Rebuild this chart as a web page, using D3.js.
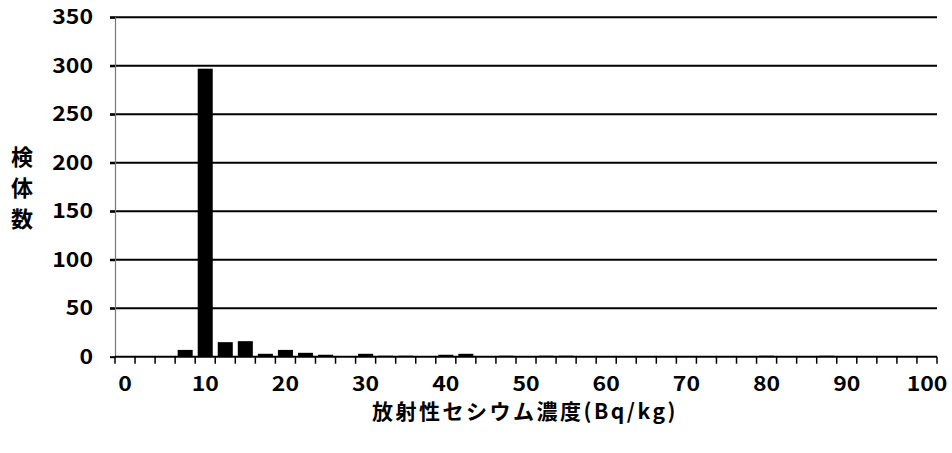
<!DOCTYPE html>
<html>
<head>
<meta charset="utf-8">
<script src="https://cdn.jsdelivr.net/npm/d3@7"></script>
<style>
  html, body { margin: 0; padding: 0; background: #fff; }
  svg { display: block; }
  text { font-family: "Noto Sans CJK JP", "Noto Sans", sans-serif; fill: #000; }
</style>
</head>
<body>
<svg id="chart" width="952" height="453"></svg>
<script>
// ---- data ----
const categories = [
  "0","2.5","5","7.5","10","12.5","15","17.5","20","22.5",
  "25","27.5","30","32.5","35","37.5","40","42.5","45","47.5",
  "50","52.5","55","57.5","60","62.5","65","67.5","70","72.5",
  "75","77.5","80","82.5","85","87.5","90","92.5","95","97.5","100"
];
const counts = [
  0, 0, 0, 7, 297, 15, 16, 3, 7, 4,
  2, 0, 3, 1, 1, 0, 2, 3, 0, 1,
  0, 1, 1, 0, 0, 0, 0, 0, 0, 0,
  0, 0, 1, 0, 0, 1, 0, 0, 0, 0, 0
];
const xTickLabels = ["0","10","20","30","40","50","60","70","80","90","100"];
const yTicks = [0, 50, 100, 150, 200, 250, 300, 350];
const xTitle = "放射性セシウム濃度(Bq/kg)";
const yTitle = ["検", "体", "数"];

// ---- layout ----
const plotL = 115, plotR = 937, plotT = 17.3, plotB = 356.7;
const labelScaleX = 1.15;
const svg = d3.select("#chart");

const x = d3.scaleBand()
  .domain(categories)
  .range([plotL, plotR])
  .paddingInner(0.25)
  .paddingOuter(0.125);

const y = d3.scaleLinear().domain([0, 350]).range([plotB, plotT]);

// gridlines
svg.append("g")
  .selectAll("line")
  .data(yTicks.filter(d => d > 0))
  .join("line")
  .attr("x1", plotL - 5)
  .attr("x2", plotR)
  .attr("y1", d => y(d))
  .attr("y2", d => y(d))
  .attr("stroke", "#000")
  .attr("stroke-width", 2);

// y axis
const yAxis = svg.append("g")
  .attr("transform", `translate(${plotL},0)`)
  .call(d3.axisLeft(y).tickValues(yTicks).tickSize(5).tickPadding(17));
yAxis.select(".domain").attr("stroke", "#777").attr("stroke-width", 1.2);
yAxis.selectAll(".tick line").attr("stroke", "#000").attr("stroke-width", 2);
yAxis.selectAll(".tick text")
  .attr("x", null)
  .attr("transform", `translate(-22,0) scale(${labelScaleX},1)`)
  .attr("font-size", 20)
  .attr("font-weight", "bold")
  .attr("font-family", '"Noto Sans CJK JP", sans-serif');

// bars
svg.append("g")
  .selectAll("rect")
  .data(categories.map((c, i) => ({ c, v: counts[i] })))
  .join("rect")
  .attr("x", d => x(d.c))
  .attr("width", x.bandwidth())
  .attr("y", d => y(d.v))
  .attr("height", d => plotB - y(d.v))
  .attr("fill", "#000");

// x axis baseline
svg.append("line")
  .attr("x1", plotL).attr("x2", plotR)
  .attr("y1", plotB).attr("y2", plotB)
  .attr("stroke", "#000").attr("stroke-width", 2);

// x tick marks at category boundaries
const boundaries = categories.map(c => x(c) - x.step() * x.paddingInner() / 2);
boundaries.push(plotR);
svg.append("g")
  .selectAll("line")
  .data(boundaries)
  .join("line")
  .attr("x1", d => d).attr("x2", d => d)
  .attr("y1", plotB).attr("y2", plotB + 7)
  .attr("stroke", "#000").attr("stroke-width", 1.5);

// x tick labels
svg.append("g")
  .selectAll("text")
  .data(xTickLabels)
  .join("text")
  .attr("transform", d => `translate(${x(d) + x.bandwidth() / 2},391) scale(${labelScaleX},1)`)
  .attr("text-anchor", "middle")
  .attr("font-size", 20)
  .attr("font-weight", "bold")
  .text(d => d);

// x title
svg.append("text")
  .attr("x", 525)
  .attr("y", 419)
  .attr("text-anchor", "middle")
  .attr("font-size", 21)
  .attr("font-weight", "bold")
  .attr("letter-spacing", 2.5)
  .text(xTitle);

// y title (vertical stacked)
svg.append("g")
  .selectAll("text")
  .data(yTitle)
  .join("text")
  .attr("x", 22)
  .attr("y", (d, i) => 165 + i * 31)
  .attr("text-anchor", "middle")
  .attr("font-size", 22)
  .attr("font-weight", "bold")
  .text(d => d);
</script>
</body>
</html>
